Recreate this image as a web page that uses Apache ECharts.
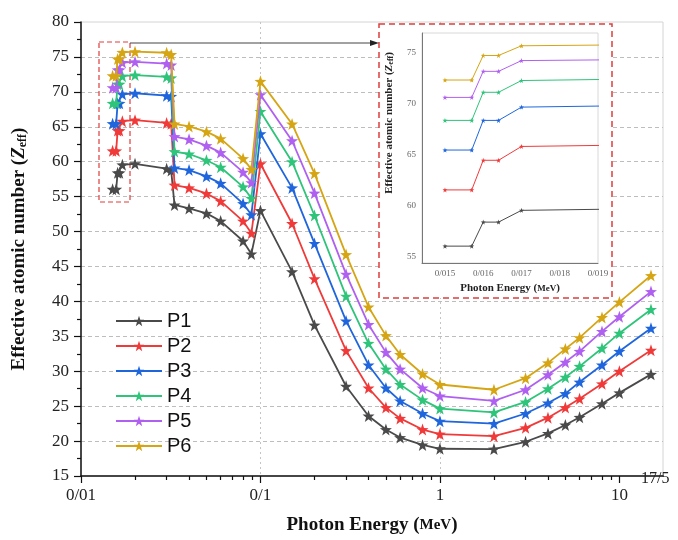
<!DOCTYPE html>
<html><head><meta charset="utf-8">
<script src="https://cdn.jsdelivr.net/npm/echarts@6/dist/echarts.min.js"></script>
<style>html,body{margin:0;padding:0;background:#fff}#c{width:678px;height:540px}</style>
</head><body><div id="c"></div>
<script>
// ---- data ----
const energies = [0.015, 0.0157, 0.016, 0.0164, 0.017, 0.02, 0.03, 0.0318, 0.0332, 0.04, 0.05, 0.06, 0.08, 0.089, 0.1, 0.15, 0.2, 0.3, 0.4, 0.5, 0.6, 0.8, 1, 2, 3, 4, 5, 6, 8, 10, 15];
const P1 = [56.05, 56.05, 58.4, 58.4, 59.55, 59.7, 59.0, 58.75, 53.8, 53.3, 52.6, 51.5, 48.65, 46.8, 53.0, 44.25, 36.6, 27.85, 23.6, 21.65, 20.5, 19.45, 18.9, 18.85, 19.9, 21.1, 22.3, 23.4, 25.35, 26.9, 29.55];
const P2 = [61.55, 61.55, 64.45, 64.45, 65.8, 65.95, 65.55, 65.45, 56.65, 56.25, 55.45, 54.35, 51.5, 49.75, 59.7, 51.15, 43.25, 32.95, 27.6, 24.8, 23.25, 21.65, 21.0, 20.7, 21.9, 23.35, 24.8, 26.05, 28.2, 30.0, 33.0];
const P3 = [65.45, 65.45, 68.35, 68.35, 69.65, 69.8, 69.45, 69.35, 59.1, 58.8, 57.9, 56.9, 54.0, 52.4, 64.0, 56.25, 48.3, 37.2, 30.9, 27.6, 25.75, 23.95, 22.85, 22.5, 23.95, 25.45, 26.8, 28.45, 30.9, 32.85, 36.15];
const P4 = [68.35, 68.35, 71.1, 71.1, 72.25, 72.4, 72.15, 72.0, 61.45, 61.1, 60.2, 59.2, 56.4, 54.75, 67.2, 60.0, 52.3, 40.75, 34.0, 30.3, 28.1, 25.9, 24.65, 24.1, 25.6, 27.5, 29.15, 30.7, 33.3, 35.45, 38.85];
const P5 = [70.6, 70.6, 73.15, 73.15, 74.2, 74.3, 74.05, 73.85, 63.6, 63.2, 62.3, 61.3, 58.5, 57.0, 69.6, 63.0, 55.5, 43.9, 36.7, 32.7, 30.3, 27.6, 26.45, 25.75, 27.35, 29.5, 31.3, 32.85, 35.7, 37.8, 41.4];
const P6 = [72.3, 72.3, 74.7, 74.7, 75.65, 75.75, 75.6, 75.35, 65.4, 65.05, 64.3, 63.3, 60.45, 58.9, 71.5, 65.4, 58.3, 46.7, 39.2, 35.1, 32.4, 29.6, 28.1, 27.35, 29.0, 31.2, 33.2, 34.8, 37.7, 39.9, 43.7];
const seriesNames = ['P1', 'P2', 'P3', 'P4', 'P5', 'P6'];
const seriesValues = [P1, P2, P3, P4, P5, P6];
const xMajorTicks = [0.01, 0.1, 1, 10];
const xMinorTicks = [0.02,0.03,0.04,0.05,0.06,0.07,0.08,0.09,0.2,0.3,0.4,0.5,0.6,0.7,0.8,0.9,2,3,4,5,6,7,8,9];
const xEndLabel = '17/5';
const insetXTicks = [0.015, 0.016, 0.017, 0.018, 0.019];
const insetYTicks = [55, 60, 65, 70, 75];

// ---- style ----
const colors = ['#4a4a4a', '#f03a3a', '#1f66dd', '#2ec47a', '#b060f0', '#d6a514'];
const star = 'path://M50,0 L61.76,33.82 L97.55,34.55 L69.02,56.18 L79.39,90.45 L50,70 L20.61,90.45 L30.98,56.18 L2.45,34.55 L38.24,33.82 Z';
const serif = 'Liberation Serif';
const fmt = v => String(+(+v).toPrecision(6)).replace('.', '/');

const chart = echarts.init(document.getElementById('c'), null, {renderer: 'canvas'});

const series = [];
seriesNames.forEach((n, k) => {
  series.push({
    name: n, type: 'line', xAxisIndex: 0, yAxisIndex: 0, z: 2 + k * 0.01,
    data: energies.map((e, i) => [e, seriesValues[k][i]]),
    symbol: star, symbolSize: 12, showAllSymbol: true,
    lineStyle: {width: 1.8, color: colors[k]},
    itemStyle: {color: colors[k]}
  });
});
seriesNames.forEach((n, k) => {
  series.push({
    name: n, type: 'line', xAxisIndex: 2, yAxisIndex: 1, z: 6,
    data: energies.map((e, i) => [e, seriesValues[k][i]]),
    symbol: star, symbolSize: 5, clip: true,
    lineStyle: {width: 1, color: colors[k]},
    itemStyle: {color: colors[k]}
  });
});

const option = {
  backgroundColor: '#fff',
  animation: false,
  color: colors,
  grid: [
    {left: 81, right: 15, top: 22, bottom: 60, show: true, borderColor: '#d4d4d4', borderWidth: 1},
    {left: 422, right: 80, top: 33, bottom: 277, show: true, borderColor: '#d8d8d8', borderWidth: 1, backgroundColor: '#fff', z: 3}
  ],
  legend: {
    data: seriesNames, orient: 'vertical', left: 110, top: 306,
    itemWidth: 46, itemHeight: 13, itemGap: 5,
    textStyle: {fontFamily: 'Liberation Sans', fontSize: 20, color: '#111'}
  },
  xAxis: [
    {
      type: 'log', gridIndex: 0, position: 'bottom', min: 0.01, max: 17.5, logBase: 10,
      name: '{a|Photon Energy (}{b|MeV}{a|)}', nameLocation: 'middle', nameGap: 40,
      nameTextStyle: {rich: {
        a: {fontFamily: serif, fontWeight: 'bold', fontSize: 19, color: '#111'},
        b: {fontFamily: serif, fontWeight: 'bold', fontSize: 15, color: '#111'}
      }},
      axisLine: {lineStyle: {color: '#111', width: 1.5}},
      axisTick: {show: true, length: 7, lineStyle: {color: '#111', width: 1.2}, customValues: xMajorTicks},
      axisLabel: {customValues: xMajorTicks, formatter: fmt, fontFamily: serif, fontSize: 17, color: '#222', margin: 11},
      splitLine: {show: true, showMinLine: false, showMaxLine: false, lineStyle: {color: '#c4c4c4', type: [2, 3], width: 1}},
      minorTick: {show: false}
    },
    {
      type: 'log', gridIndex: 0, position: 'bottom', offset: 0, min: 0.01, max: 17.5, logBase: 10,
      axisLine: {show: false},
      axisTick: {show: true, length: 4, lineStyle: {color: '#111', width: 1.2}, customValues: xMinorTicks},
      axisLabel: {show: false},
      splitLine: {show: false}
    },
    {
      type: 'value', gridIndex: 1, position: 'bottom', min: 0.0144, max: 0.019, z: 4,
      name: '{a|Photon Energy (}{b|MeV}{a|)}', nameLocation: 'middle', nameGap: 20,
      nameTextStyle: {rich: {
        a: {fontFamily: serif, fontWeight: 'bold', fontSize: 11, color: '#222'},
        b: {fontFamily: serif, fontWeight: 'bold', fontSize: 9, color: '#222'}
      }},
      axisLine: {lineStyle: {color: '#777', width: 1}},
      axisTick: {show: false},
      axisLabel: {customValues: insetXTicks, formatter: fmt, fontFamily: serif, fontSize: 9, color: '#666', margin: 6},
      splitLine: {show: false}
    }
  ],
  yAxis: [
    {
      type: 'value', gridIndex: 0, min: 15, max: 80, interval: 5,
      name: '{a|Effective atomic number (}{z|Z}{s|eff}{a|)}', nameLocation: 'middle', nameGap: 52, nameRotate: 90,
      nameTextStyle: {rich: {
        a: {fontFamily: serif, fontWeight: 'bold', fontSize: 19, color: '#111'},
        z: {fontFamily: serif, fontWeight: 'bold', fontStyle: 'italic', fontSize: 19, color: '#111'},
        s: {fontFamily: serif, fontWeight: 'bold', fontSize: 12, color: '#111', padding: [8, 0, 0, 0]}
      }},
      axisLine: {show: true, lineStyle: {color: '#111', width: 1.5}},
      axisTick: {show: true, length: 7, lineStyle: {color: '#111', width: 1.2}},
      minorTick: {show: true, splitNumber: 2, length: 4, lineStyle: {color: '#111', width: 1.2}},
      axisLabel: {fontFamily: serif, fontSize: 17, color: '#222', margin: 12},
      splitLine: {show: true, showMinLine: false, showMaxLine: false, lineStyle: {color: '#bdbdbd', type: [4, 3], width: 1}}
    },
    {
      type: 'value', gridIndex: 1, min: 54.4, max: 76.9, z: 4,
      name: '{a|Effective atomic number (}{z|Z}{s|eff}{a|)}', nameLocation: 'middle', nameGap: 27, nameRotate: 90,
      nameTextStyle: {padding: [0, 0, 0, 50], rich: {
        a: {fontFamily: serif, fontWeight: 'bold', fontSize: 11, color: '#222'},
        z: {fontFamily: serif, fontWeight: 'bold', fontStyle: 'italic', fontSize: 11, color: '#222'},
        s: {fontFamily: serif, fontWeight: 'bold', fontSize: 8, color: '#222', padding: [4, 0, 0, 0]}
      }},
      axisLine: {show: true, lineStyle: {color: '#777', width: 1}},
      axisTick: {show: false},
      axisLabel: {customValues: insetYTicks, fontFamily: serif, fontSize: 9, color: '#666', margin: 6},
      splitLine: {show: false}
    }
  ],
  graphic: [
    {type: 'rect', z: 1, shape: {x: 379, y: 24, width: 233, height: 274},
     style: {fill: '#fff', stroke: '#e03c3c', lineWidth: 1.5, lineDash: [6, 4]}},
    {type: 'rect', z: 1, shape: {x: 99, y: 42, width: 31, height: 160},
     style: {fill: 'none', stroke: '#e03c3c', lineWidth: 1.2, lineDash: [5, 3]}},
    {type: 'line', z: 1, shape: {x1: 130, y1: 43, x2: 372, y2: 43}, style: {stroke: '#444', lineWidth: 1}},
    {type: 'polygon', z: 1, shape: {points: [[379, 43], [370, 40], [370, 46]]}, style: {fill: '#222'}},
    {type: 'text', z: 5, x: 641, y: 471, style: {text: xEndLabel, font: '16px "Liberation Serif"', fill: '#222'}}
  ],
  series: series
};
chart.setOption(option);
</script>
</body></html>
